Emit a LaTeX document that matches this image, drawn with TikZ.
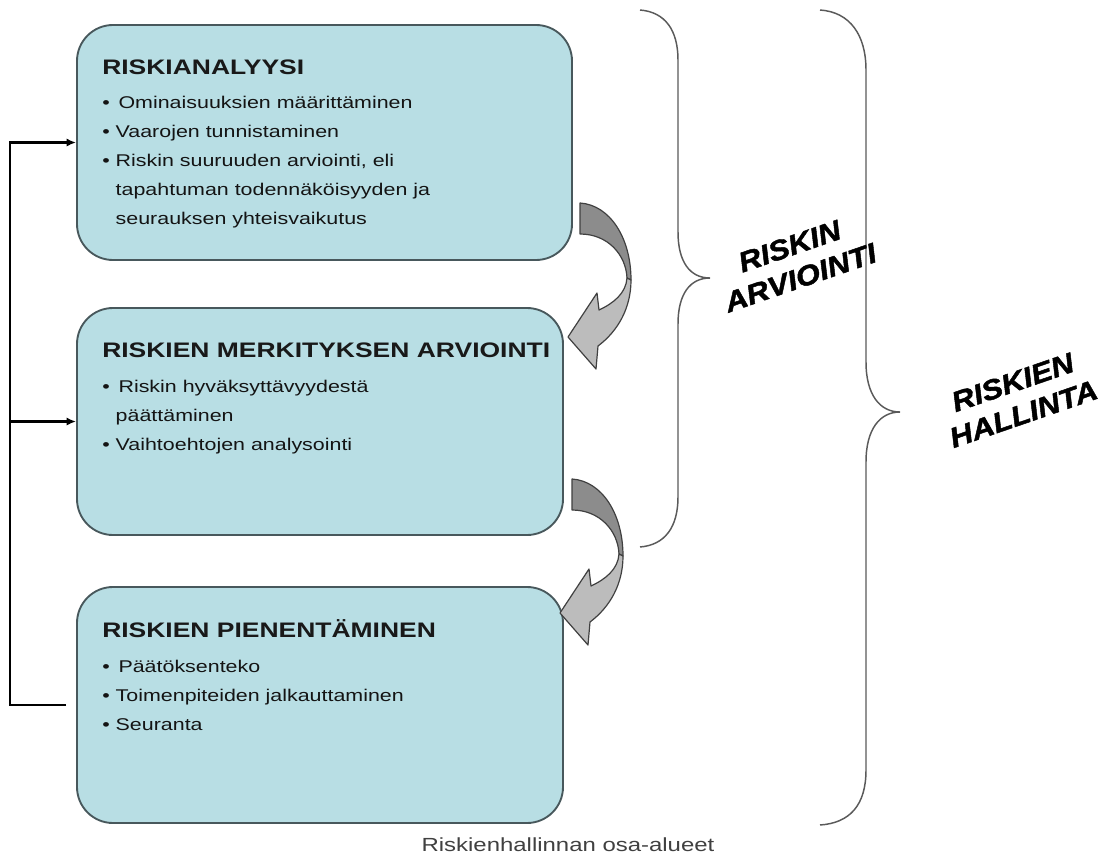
\documentclass[tikz,border=0pt]{standalone}
\usepackage{fontspec}
\setmainfont[FakeStretch=1.26]{Liberation Sans}
\newfontfamily\bracefont[FakeStretch=1.12, FakeBold=1.6]{Liberation Sans}
\usetikzlibrary{positioning}
\usetikzlibrary{calc}
\usetikzlibrary{arrows.meta}
\definecolor{boxfill}{RGB}{184,222,228}
\definecolor{boxline}{RGB}{72,88,92}
\definecolor{darkturn}{RGB}{140,140,140}
\definecolor{lightturn}{RGB}{188,188,188}
\definecolor{bracegray}{RGB}{90,90,90}
\tikzset{
	box/.style={draw=boxline, fill=boxfill, line width=1.4pt, rounded corners=27pt, inner sep=0pt},
	title/.style={anchor=base west, inner sep=0pt, font=\fontsize{15.75}{18}\selectfont\bfseries, text=black!90},
	items/.style={anchor=north west, inner sep=0pt, align=left, font=\fontsize{12.75}{21.75}\selectfont, text=black!92},
	feedback/.style={line width=1.8pt, -{Latex[length=7pt,width=6pt]}},
	brace/.style={draw=bracegray, line width=1.1pt},
	bracelabel/.style={rotate=19, align=center, inner sep=0pt, font=\bracefont\fontsize{21}{25}\selectfont\bfseries\itshape},
	turnline/.style={draw=black!75, line width=0.9pt, line join=round},
	pics/turn/.style={code={
		\path[turnline, fill=darkturn] (0,0) .. controls (30,2) and (51,35) .. (51,77) -- (47,75) .. controls (46,52) and (28,31) .. (0,31) -- cycle;
		\path[turnline, fill=lightturn] (51,77) .. controls (51,105) and (38,128) .. (18,143) -- (16,166) -- (-12,134) -- (17,90) -- (19,107) .. controls (34,100) and (46,90) .. (47,75) -- cycle;
	}}
}

\begin{document}
\begin{tikzpicture}[x=0.75pt, y=-0.75pt]
	\useasboundingbox (0,0) rectangle (1104,864);
	\fill[white] (0,0) rectangle (1104,864);

	\node[box, minimum width=371.25pt, minimum height=176.25pt] (analyysi) at (324.5,142.5) {};
	\node[box, minimum width=364.5pt, minimum height=170.25pt] (merkitys) at (320,421.5) {};
	\node[box, minimum width=364.5pt, minimum height=177pt] (pienennys) at (320,705) {};

	\node[title] (analyysi-t) at (102,74.5) {RISKIANALYYSI};
	\node[items] (analyysi-i) at (102,96) {\textbullet\ \,Ominaisuuksien määrittäminen\\
		\textbullet\ Vaarojen tunnistaminen\\
		\textbullet\ Riskin suuruuden arviointi, eli\\
		\phantom{\textbullet\ }tapahtuman todennäköisyyden ja\\
		\phantom{\textbullet\ }seurauksen yhteisvaikutus};

	\node[title] (merkitys-t) at (102,357.5) {RISKIEN MERKITYKSEN ARVIOINTI};
	\node[items] (merkitys-i) at (102,380) {\textbullet\ \,Riskin hyväksyttävyydestä\\
		\phantom{\textbullet\ }päättäminen\\
		\textbullet\ Vaihtoehtojen analysointi};

	\node[title] (pienennys-t) at (102,637.5) {RISKIEN PIENENTÄMINEN};
	\node[items] (pienennys-i) at (102,660) {\textbullet\ \,Päätöksenteko\\
		\textbullet\ Toimenpiteiden jalkauttaminen\\
		\textbullet\ Seuranta};

	\coordinate (rail) at (10,0);
	\draw[feedback, shorten <=7.5pt] (pienennys.west) -- (pienennys.west -| rail) -- (analyysi.west -| rail) -- (analyysi.west);
	\draw[feedback] (merkitys.west -| rail) -- (merkitys.west);

	\pic at (580,203) {turn};
	\pic at (572,479) {turn};

	\draw[brace] (640,10) .. controls (665,12) and (678,30) .. (678,60) -- (678,232) .. controls (678,262) and (690,278) .. (710,278) .. controls (690,278) and (678,294) .. (678,324) -- (678,497) .. controls (678,527) and (665,545) .. (640,547);
	\draw[brace] (820,10) .. controls (850,12) and (866,35) .. (866,70) -- (866,362) .. controls (866,395) and (880,412) .. (900,412) .. controls (880,412) and (866,429) .. (866,462) -- (866,770) .. controls (866,805) and (850,823) .. (820,825);

	\node[bracelabel] (arviointi) at (795,262) {RISKIN\\ARVIOINTI};
	\node[bracelabel] (hallinta) at (1018,398) {RISKIEN\\HALLINTA};

	\node[font=\fontsize{14.25}{16}\selectfont, text=black!75] (caption) at (568,845) {Riskienhallinnan osa-alueet};
\end{tikzpicture}
\end{document}
